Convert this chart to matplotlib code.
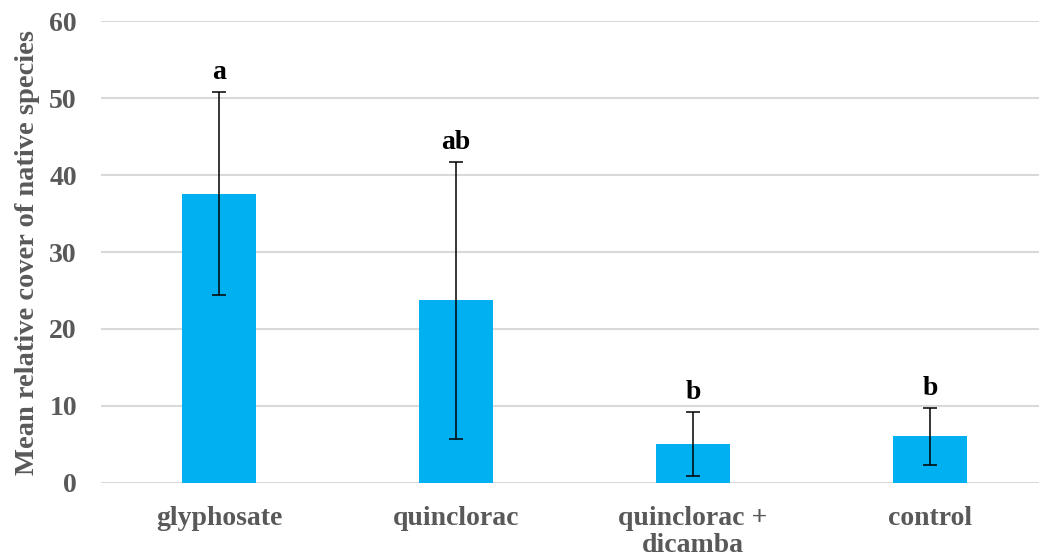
import matplotlib.pyplot as plt
import numpy as np

# treatments and mean relative cover of native species (with error bars)
treatments = ['glyphosate', 'quinclorac', 'quinclorac +\ndicamba', 'control']
mean_cover = [37.6, 23.7, 5.0, 6.0]
errors = [13.2, 18.0, 4.2, 3.65]
letters = ['a', 'ab', 'b', 'b']

plt.rcParams['font.family'] = ['Liberation Serif', 'DejaVu Serif']
grey = '#595959'

fig = plt.figure(figsize=[10.39, 5.58], dpi=100)
ax = fig.add_axes([100.5 / 1039, 0.1351, (1039 - 100.5) / 1039, 0.8265])

x = np.arange(len(treatments))
ax.bar(x, mean_cover, width=0.31, color='#00B0F0', zorder=2)
ax.errorbar(x, mean_cover, yerr=errors, fmt='none', ecolor='black',
            elinewidth=1.1, capsize=4.7, capthick=1.1, zorder=3)

# significance letters above the error bars
for xi, m, e, lab in zip(x, mean_cover, errors, letters):
    ax.annotate(lab, (xi, m + e), xytext=(0, 5), textcoords='offset points',
                ha='center', va='bottom', fontsize=20, fontweight='bold',
                color='black')

ax.set_xlim(-0.5, 3.46)
ax.set_ylim(0, 60)
ax.set_yticks(range(0, 61, 10))
ax.set_xticks(x)
ax.set_xticklabels(treatments, fontsize=20, fontweight='bold', color=grey,
                   linespacing=1.1)
for t in ax.get_yticklabels():
    t.set_fontsize(20)
    t.set_fontweight('bold')
    t.set_color(grey)
ax.tick_params(axis='both', length=0)
ax.tick_params(axis='y', pad=17)
ax.tick_params(axis='x', pad=17)

ax.grid(axis='y', color='#D9D9D9', linewidth=1.5, zorder=0)
for s in ax.spines.values():
    s.set_visible(False)

ax.set_ylabel('Mean relative cover of native species', fontsize=20.5,
              fontweight='bold', color=grey)
ax.yaxis.set_label_coords(-60 / 938.5, 0.5)

fig.savefig('out.png', dpi=100)
